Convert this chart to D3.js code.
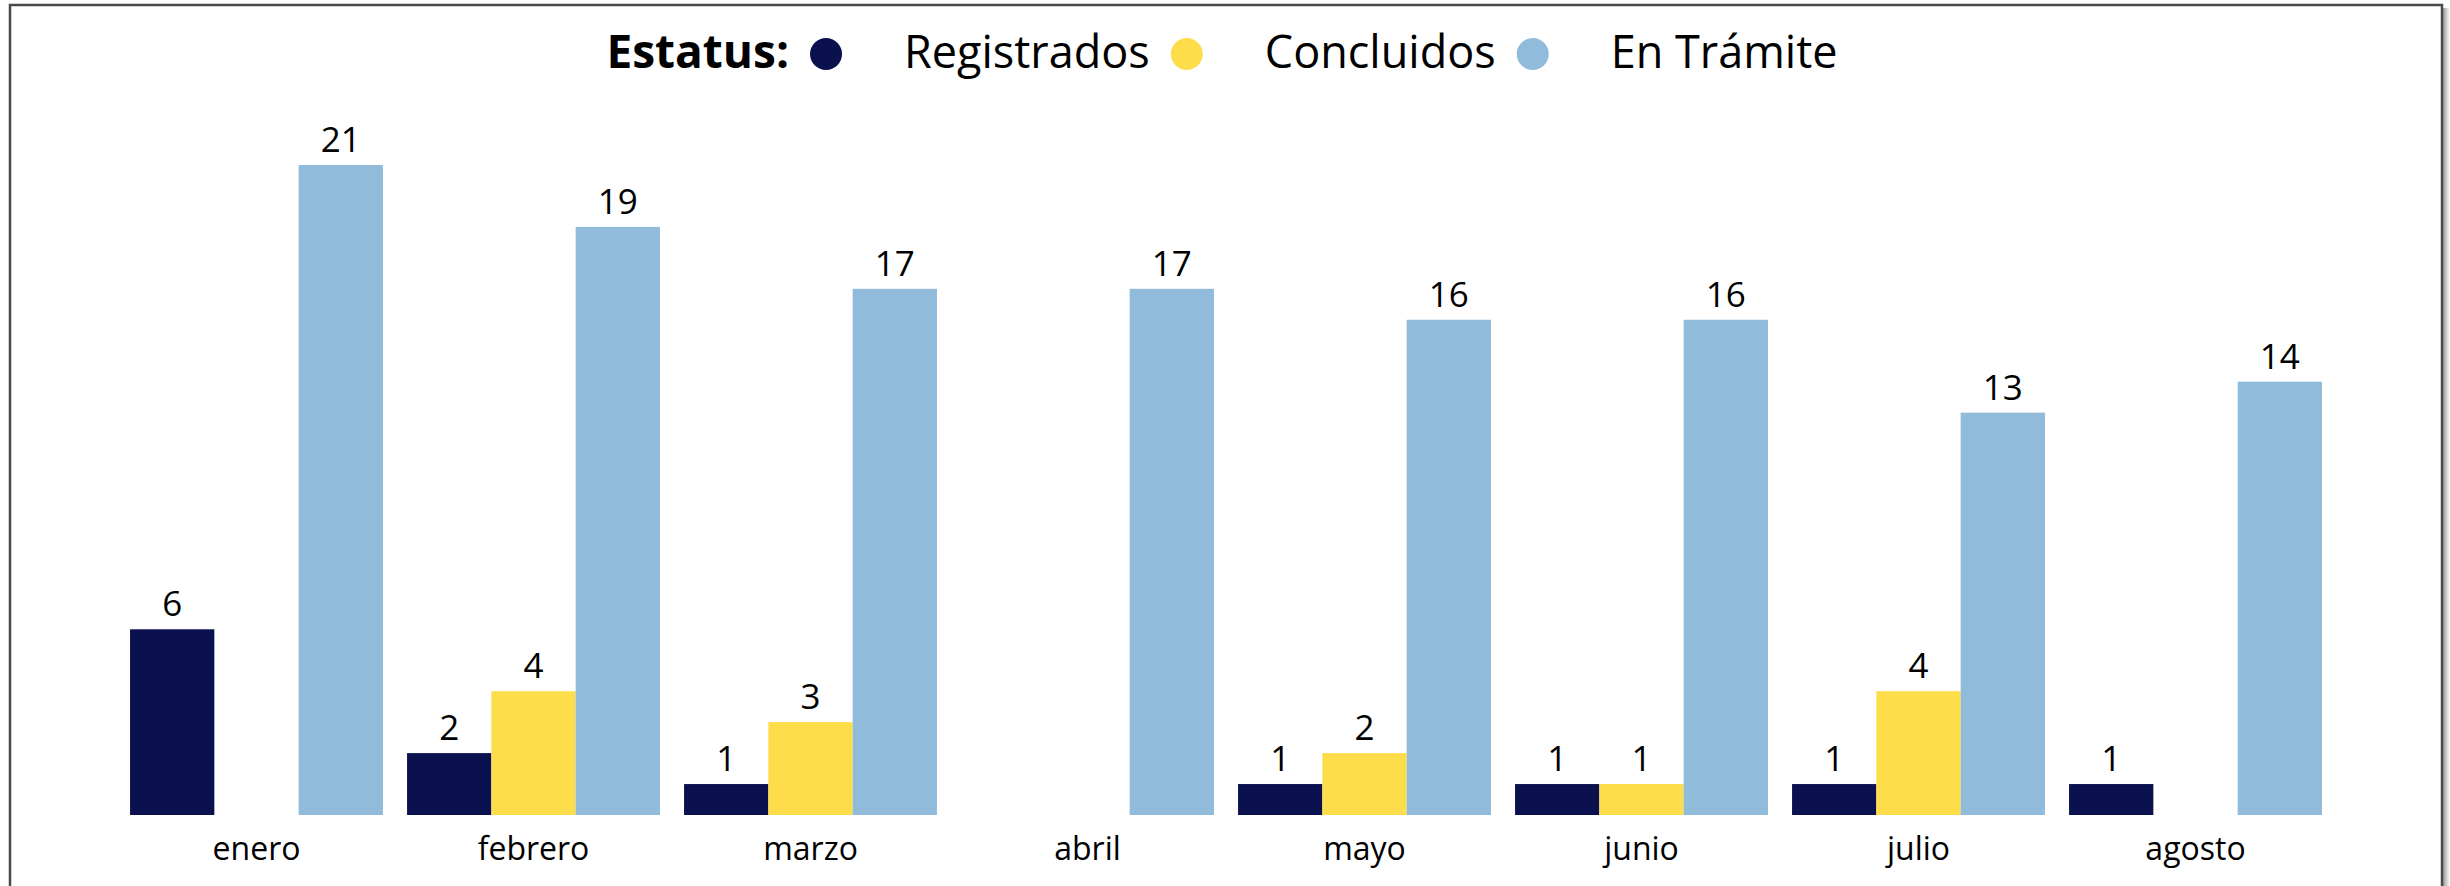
<!DOCTYPE html>
<html>
<head>
<meta charset="utf-8">
<script src="https://cdn.jsdelivr.net/npm/d3@7"></script>
<style>
  html, body { margin: 0; padding: 0; background: #ffffff; }
  svg { display: block; }
  text { font-family: "Open Sans", "Noto Sans", sans-serif; fill: #000; }
</style>
</head>
<body>
<svg id="chart" width="2450" height="886"></svg>
<script>
const months = ["enero", "febrero", "marzo", "abril", "mayo", "junio", "julio", "agosto"];
const seriesNames = ["Registrados", "Concluidos", "En Trámite"];
const registrados = [6, 2, 1, null, 1, 1, 1, 1];
const concluidos  = [null, 4, 3, null, 2, 1, 4, null];
const enTramite   = [21, 19, 17, 17, 16, 16, 13, 14];
const seriesColors = ["#0b114f", "#fedd4b", "#90bbdb"];
const legendTitle = "Estatus:";

const seriesValues = [registrados, concluidos, enTramite];
const rows = [];
months.forEach((m, i) => {
  seriesNames.forEach((s, j) => {
    rows.push({ month: m, series: s, value: seriesValues[j][i] });
  });
});

const svg = d3.select("#chart");

// frame with slight shadow
const defs = svg.append("defs");
const grad = defs.append("linearGradient").attr("id", "shadowR").attr("x1", 0).attr("x2", 1);
grad.append("stop").attr("offset", "0%").attr("stop-color", "#9a9a9a");
grad.append("stop").attr("offset", "100%").attr("stop-color", "#ffffff");
svg.append("rect").attr("x", 2443).attr("y", 8).attr("width", 7).attr("height", 878).attr("fill", "url(#shadowR)");
svg.append("rect").attr("x", 10).attr("y", 5).attr("width", 2432).attr("height", 900)
  .attr("fill", "#ffffff").attr("stroke", "#4a4a4a").attr("stroke-width", 2.5);

const x = d3.scaleBand().domain(months).range([118, 2334]).paddingInner(0.087).paddingOuter(0.0435);
const xs = d3.scaleBand().domain(seriesNames).range([0, x.bandwidth()]).padding(0);
const y = d3.scaleLinear().domain([0, 21]).range([815, 165]);
const color = d3.scaleOrdinal().domain(seriesNames).range(seriesColors);

const present = rows.filter(d => d.value !== null && d.value > 0);

svg.append("g").selectAll("rect").data(present).join("rect")
  .attr("x", d => x(d.month) + xs(d.series))
  .attr("y", d => y(d.value))
  .attr("width", xs.bandwidth())
  .attr("height", d => y(0) - y(d.value))
  .attr("fill", d => color(d.series));

svg.append("g").selectAll("text").data(present).join("text")
  .attr("x", d => x(d.month) + xs(d.series) + xs.bandwidth() / 2)
  .attr("y", d => y(d.value) - 13)
  .attr("text-anchor", "middle")
  .style("font-size", "35px")
  .text(d => d.value);

// x axis labels
const xAxis = d3.axisBottom(x).tickSize(0).tickPadding(0);
const gx = svg.append("g").attr("transform", `translate(0, ${y(0)})`).call(xAxis);
gx.select(".domain").remove();
gx.selectAll("text")
  .attr("y", 45)
  .attr("dy", null)
  .style("font-size", "32px")
  .style("font-family", "'Open Sans', sans-serif")
  .attr("fill", "#000");

// legend
const lg = svg.append("g");
const baseY = 68, cy = 54;
let cursor = 0;
const title = lg.append("text").attr("x", cursor).attr("y", baseY)
  .style("font-size", "46px").style("font-weight", "bold").text(legendTitle);
cursor += title.node().getComputedTextLength();
seriesNames.forEach((s, i) => {
  lg.append("circle").attr("cx", cursor + 37).attr("cy", cy).attr("r", 16).attr("fill", color(s));
  cursor += 37 + 78;
  const t = lg.append("text").attr("x", cursor).attr("y", baseY).style("font-size", "45px").text(s);
  cursor += t.node().getComputedTextLength();
});
lg.attr("transform", `translate(${1222 - cursor / 2}, 0)`);
</script>
</body>
</html>
